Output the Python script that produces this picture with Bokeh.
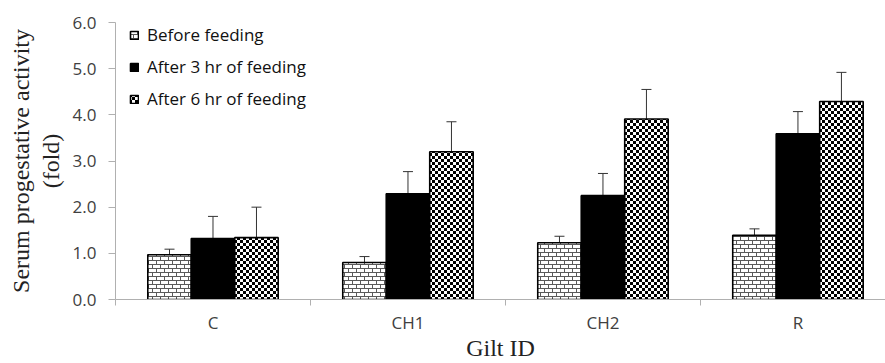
import zlib, struct, base64
from bokeh.plotting import figure
from bokeh.models import (ColumnDataSource, Whisker, TeeHead, FixedTicker,
                          ImageURLTexture, NumeralTickFormatter)
from bokeh.core.properties import value
from bokeh.embed import file_html
from bokeh.resources import INLINE

# ---- data ----
gilts = ["C", "CH1", "CH2", "R"]
before = [0.97, 0.80, 1.23, 1.39]
before_err = [0.12, 0.13, 0.14, 0.14]
after3 = [1.32, 2.29, 2.25, 3.59]
after3_err = [0.48, 0.48, 0.48, 0.48]
after6 = [1.34, 3.20, 3.91, 4.29]
after6_err = [0.66, 0.65, 0.64, 0.63]
series_names = ["Before feeding", "After 3 hr of feeding", "After 6 hr of feeding"]
y_ticks = [0, 1, 2, 3, 4, 5, 6]
y_title = "Serum progestative activity\n(fold)"
x_title = "Gilt ID"

centers = [i + 0.5 for i in range(len(gilts))]
bw = 0.223
offsets = [-bw, 0.0, bw]


def png_url(rows):
    h = len(rows)
    w = len(rows[0])
    raw = b"".join(b"\x00" + bytes([c for px in row for c in (px, px, px)]) for row in rows)

    def chunk(t, d):
        return struct.pack(">I", len(d)) + t + d + struct.pack(">I", zlib.crc32(t + d) & 0xffffffff)
    data = (b"\x89PNG\r\n\x1a\n" + chunk(b"IHDR", struct.pack(">IIBBBBB", w, h, 8, 2, 0, 0, 0))
            + chunk(b"IDAT", zlib.compress(raw)) + chunk(b"IEND", b""))
    return "data:image/png;base64," + base64.b64encode(data).decode()


# checkerboard tile (3 px squares)
checker_rows = [[0 if ((x // 3) + (y // 3)) % 2 == 0 else 255 for x in range(6)] for y in range(6)]


# brick tile (rows of 4 px, bricks 8 px long, offset by half)
def brick_px(x, y):
    if y % 4 == 0:
        return 90
    if y < 4 and x == 0:
        return 90
    if y > 4 and x == 4:
        return 90
    return 255


brick_rows = [[brick_px(x, y) for x in range(8)] for y in range(8)]

checker = ImageURLTexture(url=png_url(checker_rows))
brick = ImageURLTexture(url=png_url(brick_rows))

p = figure(width=885, height=363, output_backend="svg", toolbar_location=None,
           x_range=(0, 3.949), y_range=(0, 6),
           min_border_left=115, min_border_right=0, min_border_top=22,
           min_border_bottom=64)
p.outline_line_color = None
p.xgrid.visible = False
p.ygrid.visible = False
p.background_fill_color = "white"
p.border_fill_color = "white"

series = [(before, before_err), (after3, after3_err), (after6, after6_err)]
styles = [
    dict(fill_color="white", hatch_pattern=value("brick"), hatch_extra={"brick": brick},
         hatch_color="#5a5a5a"),
    dict(fill_color="black"),
    dict(fill_color="white", hatch_pattern=value("checker"), hatch_extra={"checker": checker},
         hatch_color="black"),
]

for k, ((vals, errs), st, name) in enumerate(zip(series, styles, series_names)):
    xs = [c + offsets[k] for c in centers]
    src = ColumnDataSource(dict(x=xs, top=vals))
    p.vbar(x="x", top="top", bottom=0, width=bw, source=src,
           line_color="black", line_width=1.6, legend_label=name, **st)

for k, (vals, errs) in enumerate(series):
    xs = [c + offsets[k] for c in centers]
    src = ColumnDataSource(dict(x=xs,
                                upper=[v + e for v, e in zip(vals, errs)],
                                lower=[v - e for v, e in zip(vals, errs)]))
    w = Whisker(base="x", upper="upper", lower="lower", source=src,
                line_color="#333333", line_width=1,
                upper_head=TeeHead(size=10, line_color="#333333", line_width=1),
                lower_head=None)
    p.add_layout(w)

axis_gray = "#b0b0b0"
label_col = "#404040"
tick_font = "Open Sans"

# y axis
p.yaxis.ticker = FixedTicker(ticks=y_ticks)
p.yaxis.formatter = NumeralTickFormatter(format="0.0")
p.yaxis.axis_line_color = axis_gray
p.yaxis.major_tick_line_color = axis_gray
p.yaxis.major_tick_out = 7
p.yaxis.major_tick_in = 0
p.yaxis.minor_tick_line_color = None
p.yaxis.major_label_text_font = tick_font
p.yaxis.major_label_text_font_size = "17px"
p.yaxis.major_label_text_color = label_col
p.yaxis.major_label_standoff = 12
p.yaxis.axis_label = y_title
p.yaxis.axis_label_text_font = "Liberation Serif"
p.yaxis.axis_label_text_font_style = "normal"
p.yaxis.axis_label_text_font_size = "24px"
p.yaxis.axis_label_text_line_height = 1.12
p.yaxis.axis_label_text_color = "#222222"
p.yaxis.axis_label_standoff = 6

# x axis
p.xaxis.ticker = FixedTicker(ticks=centers, minor_ticks=[0, 1, 2, 3, 4])
p.xaxis.major_label_overrides = {c: g for c, g in zip(centers, gilts)}
p.xaxis.axis_line_color = axis_gray
p.xaxis.major_tick_line_color = None
p.xaxis.minor_tick_line_color = axis_gray
p.xaxis.minor_tick_out = 6
p.xaxis.minor_tick_in = 0
p.xaxis.major_label_text_font = tick_font
p.xaxis.major_label_text_font_size = "17px"
p.xaxis.major_label_text_color = label_col
p.xaxis.major_label_standoff = 5
p.xaxis.axis_label = x_title
p.xaxis.axis_label_text_font = "Liberation Serif"
p.xaxis.axis_label_text_font_style = "normal"
p.xaxis.axis_label_text_font_size = "24px"
p.xaxis.axis_label_text_line_height = 1.0
p.xaxis.axis_label_text_color = "#222222"
p.xaxis.axis_label_standoff = -2

# legend
lg = p.legend[0]
lg.location = (14, 189)
lg.border_line_color = None
lg.background_fill_alpha = 0
lg.padding = 0
lg.margin = 0
lg.spacing = 9
lg.glyph_width = 10
lg.glyph_height = 10
lg.label_height = 20
lg.label_standoff = 8
lg.label_text_font = tick_font
lg.label_text_font_size = "17px"
lg.label_text_color = "#111111"

open("out.html", "w").write(file_html(p, INLINE))
